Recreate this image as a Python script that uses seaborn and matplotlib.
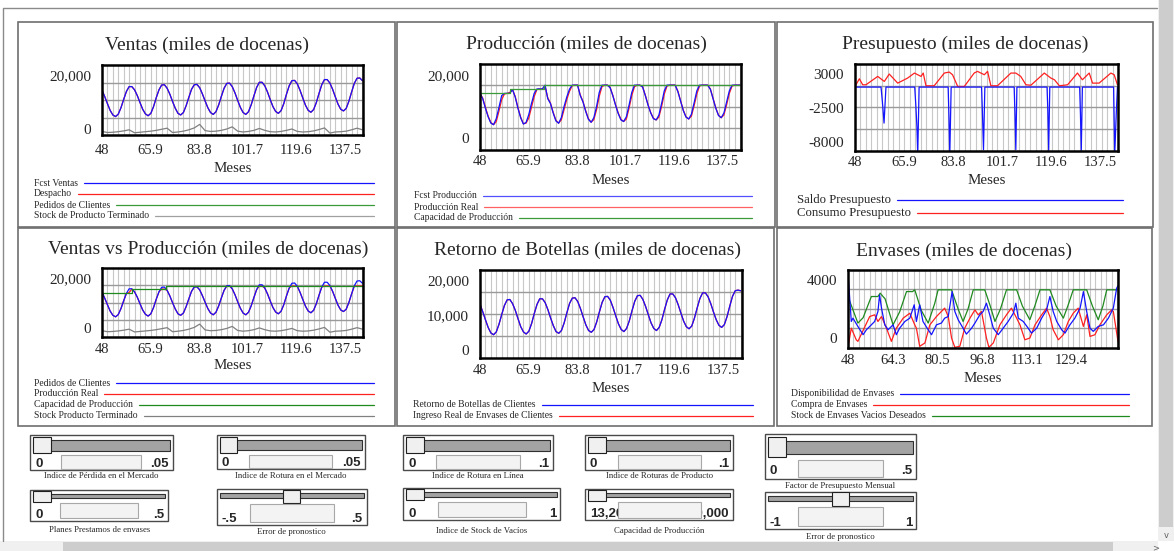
import matplotlib
matplotlib.use("Agg")
import matplotlib.pyplot as plt
import seaborn as sns
from matplotlib.patches import Rectangle

W, H = 1174, 551

# ---------------- data ----------------
months = list(range(48, 145))
months_2 = list(range(48, 145, 2))

fcst_ventas = [14400, 12000, 9400, 6900, 5200, 4600, 5500, 7900, 11000, 13900,
               15700, 15700, 14500, 12400, 9800, 7300, 5600, 4900, 5800, 8300,
               11600, 14500, 16300, 16400, 15100, 12900, 10200, 7700, 5800, 5200,
               6100, 8600, 11700, 14700, 16400, 16500, 15300, 13000, 10400, 7900,
               6100, 5400, 6400, 8900, 12100, 15100, 16900, 17000, 15700, 13400,
               10600, 8000, 6100, 5400, 6400, 9000, 12300, 15400, 17300, 17300,
               16000, 13700, 10900, 8300, 6500, 5800, 6800, 9400, 12900, 16000,
               17900, 18000, 16700, 14300, 11500, 8800, 6900, 6200, 7200, 9800,
               13200, 16400, 18300, 18300, 17000, 14700, 11900, 9200, 7300, 6700,
               7600, 10300, 13700, 16900, 18800, 18900, 17900]
despacho = list(fcst_ventas)
pedidos_clientes = list(fcst_ventas)

stock_terminado = [-900, -1300, -1200, -1000, -700, -300, -1400, -1200, -1000, -800,
                   -500, -100, 300, -1300, -1100, -800, -300, 400, 1700, -600,
                   -900, -800, -500, 0, 800, -800, -1100, -900, -500, 200,
                   -500, -1000, -1100, -900, -500, 0, -900, -1100, -1000, -700,
                   -200, 400, -1500, -1100, -1000, -800, -300, 300, -300]

prod_fcst = [14200, 12500, 9500, 6800, 4800, 4300, 6200, 9800, 13500, 14200,
             14200, 14200, 15400, 13000, 9500, 6500, 4500, 5000, 7500, 11000,
             14200, 15600, 15600, 15600, 16800, 12500, 11000, 8000, 5500, 4750,
             6500, 10000, 13000, 15500, 16800, 16800, 16800, 13500, 11500, 8500,
             6000, 5050, 6500, 10000, 14500, 16800, 16800, 16800, 16000, 13500,
             10500, 7800, 5800, 5300, 6800, 10500, 14500, 16800, 16800, 16800,
             16200, 13500, 10500, 8000, 6200, 5800, 7300, 11000, 15000, 16800,
             16800, 16800, 16800, 14800, 11800, 8800, 6700, 6100, 7600, 11200,
             15000, 16800, 16800, 16800, 16800, 15500, 12500, 9500, 7200, 6500,
             8000, 11500, 15000, 16800, 16800, 16800, 16800]

prod_real = [14200, 12700, 9800, 7000, 5000, 4300, 5300, 8600, 12200, 14000,
             14200, 14500, 15400, 13200, 9700, 6700, 4600, 4800, 6400, 9800,
             13200, 15400, 15600, 15600, 16500, 12800, 11100, 8200, 5700, 4800,
             5800, 9000, 12200, 14800, 16600, 16800, 16800, 13700, 11600, 8700,
             6200, 5100, 5900, 9000, 13300, 16300, 16800, 16800, 16100, 13600,
             10600, 8000, 6000, 5300, 6100, 9500, 13500, 16300, 16800, 16800,
             16300, 13600, 10600, 8100, 6300, 5800, 6700, 10000, 14000, 16500,
             16800, 16800, 16800, 14900, 11900, 8900, 6800, 6100, 7000, 10300,
             14000, 16500, 16800, 16800, 16800, 15600, 12600, 9600, 7300, 6500,
             7400, 10600, 14200, 16500, 16800, 16800, 16800]

vvp_real = [14200, 12000, 9400, 6900, 5200, 4600, 5500, 7900, 11000, 13900,
            14200, 15600, 14500, 12400, 9800, 7300, 5600, 4900, 5800, 8300,
            11600, 14500, 15600, 15600, 15100, 12900, 10200, 7700, 5800, 5200,
            6100, 8600, 11700, 14700, 16400, 16500, 15300, 13000, 10400, 7900,
            6100, 5400, 6400, 8900, 12100, 15100, 16800, 16800, 15700, 13400,
            10600, 8000, 6100, 5400, 6400, 9000, 12300, 15400, 16800, 16800,
            16000, 13700, 10900, 8300, 6500, 5800, 6800, 9400, 12900, 16000,
            16800, 16800, 16700, 14300, 11500, 8800, 6900, 6200, 7200, 9800,
            13200, 16400, 16800, 16800, 16800, 14700, 11900, 9200, 7300, 6700,
            7600, 10300, 13700, 16800, 16800, 16800, 16800]

cap_t = [48, 59, 71.5, 144]
cap_v = [14200, 15600, 16800, 16800]

saldo_t = [48, 57.5, 58.0, 58.6, 59.3, 69.8, 70.2, 70.6, 70.9, 71.4,
           82.0, 82.3, 82.6, 83.1, 94.2, 94.5, 94.9, 95.4, 106.1, 106.4,
           106.7, 107.1, 118.1, 118.4, 118.7, 119.1, 130.0, 130.3, 130.6, 131.0,
           142.4, 142.8, 143.4, 143.8]
saldo_v = [900, 900, -1500, -4900, 900, 900, -2000, -5500, -10000, 900,
           900, -4000, -10000, 900, 900, -3000, -9200, 900, 900, -3500,
           -9200, 900, 900, -3000, -9300, 900, 900, -3500, -9300, 900,
           900, -10000, -3000, 900]

consumo_t = [48.0, 49.6, 50.8, 52.0, 56.3, 58.7, 60.5, 63.6, 67.2, 69.7,
             72.1, 72.9, 73.9, 76.9, 80.6, 82.4, 83.6, 85.5, 87.9, 91.5,
             92.7, 95.2, 96.4, 97.6, 100.0, 104.9, 106.7, 108.5, 110.4, 112.2,
             117.1, 119.5, 120.8, 122.6, 125.6, 129.2, 131.0, 133.5, 134.7, 137.1,
             141.4, 142.6, 143.8]
consumo_v = [1000, 2240, 1270, 1270, 2620, 1810, 3000, 1540, 2350, 3160,
             2620, 3160, 1110, 1110, 3160, 3320, 2890, 1000, 1000, 3160,
             3430, 2890, 3430, 1110, 1110, 3160, 3160, 2620, 1270, 1200,
             3160, 2350, 2080, 1110, 1270, 3160, 2080, 3160, 1540, 1540,
             3160, 2890, 1270]

retorno_botellas = [13100, 10900, 8600, 6400, 4800, 4300, 5100, 7300, 10100, 12700,
                    14300, 14400, 13200, 11300, 8900, 6600, 5100, 4500, 5300, 7500,
                    10400, 13000, 14600, 14600, 13500, 11500, 9100, 6900, 5200, 4700,
                    5500, 7700, 10600, 13300, 14800, 14900, 13800, 11800, 9400, 7100,
                    5500, 5000, 5800, 8000, 10900, 13600, 15200, 15300, 14200, 12100,
                    9700, 7400, 5800, 5200, 6100, 8300, 11200, 13900, 15500, 15600,
                    14400, 12400, 10000, 7700, 6100, 5500, 6400, 8600, 11600, 14300,
                    16000, 16000, 14900, 12900, 10500, 8200, 6600, 6000, 6800, 9100,
                    12000, 14700, 16300, 16300, 15200, 13200, 10800, 8600, 7000, 6400,
                    7200, 9500, 12500, 15300, 16900, 17100, 16900]
ingreso_envases = list(retorno_botellas)

disp_t = [48.0, 49.2, 49.8, 51.6, 53.5, 54.7, 56.5, 57.7, 58.9, 59.5,
          60.2, 61.4, 62.6, 64.4, 65.6, 66.8, 68.7, 70.5, 72.1, 72.9,
          74.1, 75.3, 77.2, 78.4, 80.2, 82.0, 83.2, 84.5, 85.9, 86.9,
          88.1, 89.9, 91.1, 93.0, 94.2, 96.0, 97.2, 98.4, 99.6, 100.9,
          102.7, 104.5, 106.3, 108.2, 109.1, 110.0, 111.8, 113.6, 114.8, 116.7,
          118.5, 120.3, 121.5, 122.7, 124.0, 125.8, 127.0, 128.8, 130.6, 132.5,
          133.7, 134.9, 136.1, 137.3, 139.1, 141.0, 142.8, 144.6, 145.8, 146.3]
disp_v = [4460, 1140, 1370, 800, 230, 570, 910, 1140, 1830, 2970,
          2060, 910, 570, 910, 230, 680, 1140, 1370, 2290, 1140,
          2290, 1140, 570, 230, 910, 1030, 1370, 1480, 3200, 1830,
          1260, 680, 270, 680, 1030, 1600, 1830, 2400, 1600, 680,
          230, 680, 1140, 1710, 2400, 1370, 1140, 680, 340, 680,
          1370, 1940, 2860, 1830, 1140, 570, 340, 910, 1370, 2060,
          3200, 1830, 680, 460, 800, 910, 1370, 2060, 3430, 3600]

compra_t = [48.0, 49.2, 51.0, 51.6, 55.9, 57.7, 58.9, 60.2, 62.0, 63.8,
            65.6, 68.1, 70.5, 72.3, 72.9, 74.1, 76.0, 77.8, 80.2, 83.2,
            84.5, 85.7, 86.9, 88.7, 90.5, 92.4, 94.2, 95.4, 96.6, 98.4,
            99.3, 100.9, 103.3, 105.7, 107.5, 109.4, 110.6, 112.4, 114.2, 116.1,
            118.5, 120.3, 121.5, 122.7, 124.6, 126.4, 128.2, 130.0, 131.8, 133.7,
            134.9, 136.1, 137.9, 139.7, 142.2, 144.0, 144.6, 146.3]
compra_v = [-640, 680, -120, -230, 1480, 1600, 1140, 1480, 680, -230,
            680, 1370, 1710, 910, 680, -570, -340, 910, 1480, 2060,
            1480, 0, -640, -570, 680, 1370, 1940, 1600, 1830, 0,
            -640, -340, 910, 1600, 2060, 1370, 910, -120, 0, 910,
            1600, 2060, 1480, 570, -120, 230, 1140, 1710, 2060, 800,
            1600, 110, 230, 910, 1600, 1940, 1830, -230]

deseado_t = [48, 51.6, 53.5, 56.5, 58.9, 59.7, 61.5, 64.4, 66.8, 69.3,
             71.5, 72.3, 74.7, 77.2, 79.6, 80.8, 85.7, 88.1, 89.9, 91.7,
             93.6, 97.8, 99.8, 101.5, 103.5, 105.7, 109.4, 111.5, 114.2, 116.0,
             117.9, 121.5, 123.8, 126.4, 128.2, 130.0, 134.9, 137.0, 139.1, 140.8,
             142.2, 146.3]
deseado_v = [2860, 1030, 1400, 2860, 2860, 3090, 2700, 910, 1800, 3200,
             3200, 3320, 1900, 1030, 2400, 3320, 3320, 2000, 1140, 2000,
             3320, 3320, 2200, 1140, 2000, 3320, 3320, 2200, 1260, 2200,
             3320, 3320, 2200, 1370, 2300, 3320, 3320, 2200, 1260, 2200,
             3320, 3320]

ticks_main = [48, 65.9, 83.8, 101.7, 119.6, 137.5]
ticks_envases = [48, 64.3, 80.5, 96.8, 113.1, 129.4]

slider_labels = ['Indice de Pérdida en el Mercado', 'Planes Prestamos de envases',
                 'Indice de Rotura en el Mercado', 'Error de pronostico',
                 'Indice de Rotura en Línea', 'Indice de Stock de Vacíos',
                 'Indice de Roturas de Producto', 'Capacidad de Producción',
                 'Factor de Presupuesto Mensual', 'Error de pronostico']
slider_min = ['0', '0', '0', '-.5', '0', '0', '0', '13,200', '0', '-1']
slider_max = ['.05', '.5', '.05', '.5', '.1', '1', '.1', '20,000', '.5', '1']
slider_pos = [0, 0, 0, 0.5, 0, 0, 0, 0, 0, 0.5]

BLUE, RED, GREEN, GREY = '#1414ff', '#ff2020', '#2a8f2a', '#808080'

# ---------------- figure ----------------
sns.set_style("white")
plt.rcParams['font.family'] = ['Liberation Serif', 'DejaVu Serif']

fig = plt.figure(figsize=(W / 100, H / 100), dpi=100)
bg = fig.add_axes([0, 0, 1, 1])
bg.set_xlim(0, W)
bg.set_ylim(H, 0)
bg.axis('off')
renderer = fig.canvas.get_renderer()


def box(x0, y0, x1, y1, ec='#7a7a7a', fc='none', lw=1.0, z=1):
    bg.add_patch(Rectangle((x0, y0), x1 - x0, y1 - y0, fc=fc, ec=ec, lw=lw, zorder=z))


def plot_area(x0, y0, x1, y1):
    return fig.add_axes([x0 / W, 1 - y1 / H, (x1 - x0) / W, (y1 - y0) / H])


def setup(ax, rect, xlim, ylim, xticks, yticks, ylabels, tick_y, meses_y):
    x0, y0, x1, y1 = rect
    ax.set_xlim(xlim)
    ax.set_ylim(ylim)
    ax.set_xticks(xticks)
    ax.set_xticklabels([f'{t:g}' for t in xticks])
    ax.set_xticks(list(range(50, int(xlim[1]) + 1, 2)), minor=True)
    ax.set_yticks(yticks)
    ax.set_yticklabels(ylabels)
    step = (ylim[1] - ylim[0]) / 4
    ax.set_yticks([ylim[0] + k * step for k in (1, 2, 3)], minor=True)
    ax.grid(True, which='minor', axis='x', color='#c8c8c8', lw=0.8)
    ax.grid(True, which='minor', axis='y', color='#9a9a9a', lw=1.0)
    ax.tick_params(which='both', length=0)
    ax.tick_params(axis='y', pad=8, labelsize=11)
    ax.tick_params(axis='x', pad=max((tick_y - y1 - 7.3) * 0.72, 1), labelsize=10.5)
    for s in ax.spines.values():
        s.set_color('black')
        s.set_linewidth(1.8)
    ax.set_xlabel('Meses', fontsize=10.8)
    ax.xaxis.set_label_coords(0.5, (y1 - meses_y) / (y1 - y0))
    ax.xaxis.label.set_verticalalignment('center')
    ax.set_ylabel('')


def line(ax, x, y, color, **kw):
    sns.lineplot(x=x, y=y, ax=ax, color=color, lw=0.9, estimator=None,
                 sort=False, legend=False, **kw)


def legend(x, ys, labels, colors, x_end, size=6.9):
    for y, lab, c in zip(ys, labels, colors):
        t = bg.text(x, y, lab, fontsize=size, ha='left', va='center')
        bb = t.get_window_extent(renderer)
        bg.plot([bb.x1 + 6, x_end], [y, y], color=c, lw=0.9)


def title(x, y, s):
    bg.text(x, y, s, fontsize=14, ha='center', va='center')


# outer frame (top and left edges only are visible) and panel boxes
bg.plot([3, 3, 1157], [541, 8, 8], color='#8a8a8a', lw=1.0)
for r in [(18, 22, 395, 227), (397, 22, 775, 227), (777, 22, 1153, 227),
          (18, 228, 395, 426), (397, 228, 774, 426), (777, 228, 1152, 426)]:
    box(*r, ec='#6e6e6e', lw=1.2)

# ---- Ventas
r1 = (102, 65, 363, 135)
ax1 = plot_area(*r1)
line(ax1, months, despacho, RED)
line(ax1, months, fcst_ventas, BLUE)
line(ax1, months_2, stock_terminado, GREY)
setup(ax1, r1, (48, 144.2), (-2222, 23700), ticks_main, [20000, 0], ['20,000', '0'], 151, 168)
title(207, 45, 'Ventas (miles de docenas)')
legend(34, [183, 194, 205, 216],
       ['Fcst Ventas', 'Despacho', 'Pedidos de Clientes', 'Stock de Producto Terminado'],
       [BLUE, RED, '#3a9a3a', '#a0a0a0'], 374)

# ---- Produccion
r2 = (480, 64, 741, 150)
ax2 = plot_area(*r2)
line(ax2, months, prod_real, RED)
line(ax2, months, prod_fcst, BLUE)
line(ax2, cap_t, cap_v, '#3a9a3a', drawstyle='steps-post')
setup(ax2, r2, (48, 144.3), (-3700, 23480), ticks_main, [20000, 0], ['20,000', '0'], 162, 180)
title(586, 44, 'Producción (miles de docenas)')
legend(414, [196, 207, 218], ['Fcst Producción', 'Producción Real', 'Capacidad de Producción'],
       ['#5050ff', '#ff6060', '#3a9a3a'], 752)

# ---- Presupuesto
r3 = (855, 64, 1118, 151)
ax3 = plot_area(*r3)
line(ax3, consumo_t, consumo_v, RED)
line(ax3, saldo_t, saldo_v, BLUE)
setup(ax3, r3, (48, 144), (-9400, 4620), ticks_main, [3000, -2500, -8000],
      ['3000', '-2500', '-8000'], 163, 180)
title(965, 44, 'Presupuesto (miles de docenas)')
legend(797, [200, 213], ['Saldo Presupuesto', 'Consumo Presupuesto'], [BLUE, RED], 1123, size=9.2)

# ---- Ventas vs Produccion
r4 = (102, 268, 363, 337)
ax4 = plot_area(*r4)
line(ax4, months, vvp_real, RED)
line(ax4, months, pedidos_clientes, BLUE)
line(ax4, cap_t, cap_v, '#1f8a1f', drawstyle='steps-post')
line(ax4, months_2, stock_terminado, GREY)
setup(ax4, r4, (48, 144.2), (-3400, 23950), ticks_main, [20000, 0], ['20,000', '0'], 350, 366)
title(208, 249, 'Ventas vs Producción (miles de docenas)')
legend(34, [383, 394, 404.5, 415.5],
       ['Pedidos de Clientes', 'Producción Real', 'Capacidad de Producción', 'Stock Producto Terminado'],
       [BLUE, RED, '#1f8a1f', GREY], 374)

# ---- Retorno de Botellas
r5 = (480, 270, 742, 358)
ax5 = plot_area(*r5)
line(ax5, months, ingreso_envases, RED)
line(ax5, months, retorno_botellas, BLUE)
setup(ax5, r5, (48, 144.5), (-2380, 22860), ticks_main, [20000, 10000, 0],
      ['20,000', '10,000', '0'], 371, 389)
title(587, 250, 'Retorno de Botellas (miles de docenas)')
legend(413, [404.7, 415.7], ['Retorno de Botellas de Clientes', 'Ingreso Real de Envases de Clientes'],
       [BLUE, RED], 753)

# ---- Envases
r6 = (848, 270, 1118, 348)
ax6 = plot_area(*r6)
line(ax6, deseado_t, deseado_v, '#1f8a1f')
line(ax6, compra_t, compra_v, RED)
line(ax6, disp_t, disp_v, BLUE)
setup(ax6, r6, (48, 146.3), (-686, 4686), ticks_envases, [4000, 0], ['4000', '0'], 361, 378)
title(964, 251, 'Envases (miles de docenas)')
legend(791, [393.7, 404.7, 415.7],
       ['Disponibilidad de Envases', 'Compra de Envases', 'Stock de Envases Vacios Deseados'],
       [BLUE, RED, '#1f8a1f'], 1129)

# ---------------- sliders ----------------
slider_boxes = [(30, 435, 172.7, 470, False, 476.5), (30, 490, 168.3, 520.7, True, 530),
                (216.7, 435, 365, 469, False, 476), (216.7, 489, 366.7, 525, True, 532),
                (403.3, 435, 553.3, 470, False, 476.5), (403.3, 488.3, 560, 520, True, 531),
                (585, 435, 733.3, 470, False, 476.5), (585, 489, 733.3, 520, True, 531),
                (765, 434, 916, 479, False, 485.5), (765, 491.7, 916, 529.3, True, 537)]

for (x0, y0, x1, y1, thin, ly), lab, lo, hi, f in zip(slider_boxes, slider_labels,
                                                      slider_min, slider_max, slider_pos):
    w, h = x1 - x0, y1 - y0
    if thin:
        tr, hd, vb = (0.12, 0.26), (0.02, 0.38), (0.42, 0.92)
    else:
        tr, hd, vb = (0.15, 0.45), (0.06, 0.52), (0.58, 0.96)
    box(x0, y0, x1, y1, ec='#4a4a4a', fc='white', lw=1.0)
    box(x0 + 3, y0 + tr[0] * h, x1 - 3, y0 + tr[1] * h, ec='#303030', fc='#a3a3a3', lw=0.8)
    hx = x0 + 3 + f * (w - 6 - 17.5)
    box(hx, y0 + hd[0] * h, hx + 17.5, y0 + hd[1] * h, ec='#202020', fc='#f0f0f0', lw=0.8, z=2)
    bg.text(x0 + 5, y0 + 0.82 * h, lo, ha='left', va='center', fontsize=9.5,
            family=['Liberation Sans'], weight='bold', zorder=2)
    bg.text(x1 - 4, y0 + 0.82 * h, hi, ha='right', va='center', fontsize=9.5,
            family=['Liberation Sans'], weight='bold', zorder=2)
    box(x0 + 0.22 * w, y0 + vb[0] * h, x0 + 0.78 * w, y0 + vb[1] * h, ec='#a8a8a8', fc='#f3f3f3', lw=0.8, z=3)
    bg.text((x0 + x1) / 2, ly, lab, ha='center', va='center', fontsize=6.3)

# scrollbars
box(1158, 0, 1174, 541, ec='none', fc='#f0f0f0')
box(1159, 0, 1173, 527, ec='none', fc='#cdcdcd')
box(0, 541, 1158, 551, ec='none', fc='#f0f0f0')
box(63, 542, 1113, 551, ec='none', fc='#cdcdcd')
bg.text(1166, 535, 'v', ha='center', va='center', fontsize=6, color='#606060',
        family=['DejaVu Sans'])
bg.text(1156, 548, '>', ha='center', va='center', fontsize=6, color='#606060',
        family=['DejaVu Sans'])

fig.savefig('out.png', dpi=100)
